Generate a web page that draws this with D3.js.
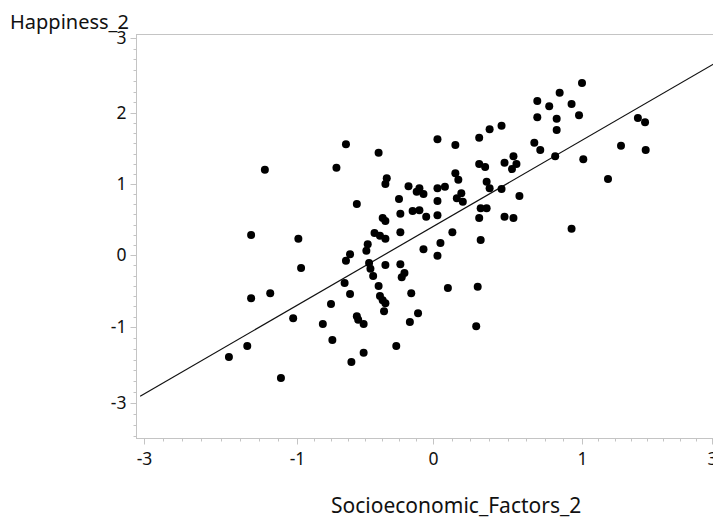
<!DOCTYPE html>
<html>
<head>
<meta charset="utf-8">
<script src="https://cdn.jsdelivr.net/npm/d3@7"></script>
<style>
  html, body { margin: 0; padding: 0; background: #fff; }
  svg { display: block; font-family: "Noto Sans", "Open Sans", sans-serif; }
</style>
</head>
<body>
<svg id="chart" width="713" height="518"></svg>
<script>
// ---- data ----
const xTickLabels = [-3, -1, 0, 1, 3];
const yTickLabels = [-3, -1, 0, 1, 2, 3];

const socioeconomic = [
  -1.89, -1.65, -1.21, -1.60, -1.60, -1.42, -1.35, -0.99, -0.97, -1.05,
  -0.64, -0.71, -0.56, -0.61, -0.64, -0.48, -0.49, -0.47, -0.65, -0.61, -0.75, -0.56, -0.55,
  -0.40, 0.03, 0.15, 0.31, 0.38, 0.46, -0.34, -0.35, -0.18, -0.10, -0.12, -0.07, 0.03, 0.08,
  0.15, 0.17, 0.31, 0.35, 0.36, 0.38, 0.46, 0.19, 0.16, 0.20, 0.03, -0.25, -0.15, -0.10,
  -0.05, -0.24, 0.03, 0.32, 0.36, 0.31, -0.37, -0.35, -0.43, -0.39, -0.35, -0.24, 0.13,
  0.05, -0.07, 0.03, 0.32, -0.46, -0.35, -0.24, -0.44, -0.21, -0.23,
  -0.40, -0.39, -0.37, -0.35, -0.36, -0.16, -0.11, -0.17, -0.81, -0.51, -0.74, -0.60, -0.51, -0.27,
  1.00, 0.85, 0.70, 0.78, 0.93, 0.70, 0.83, 0.98, 0.83, 0.68, 0.72, 0.82, 1.02,
  1.86, 1.97, 1.60, 1.98, 1.40, 0.93, 0.48, 0.54, 0.56, 0.53, 0.58, 0.48, 0.54,
  0.10, 0.30, 0.29
];
const happiness = [
  -1.79, -1.50, -2.34, -0.60, 0.28, 1.20, -0.53, 0.23, -0.18, -0.88,
  1.56, 1.23, 0.72, 0.01, -0.08, 0.15, 0.06, -0.11, -0.39, -0.54, -0.68, -0.85, -0.90,
  1.44, 1.63, 1.55, 1.65, 1.77, 1.82, 1.08, 1.00, 0.97, 0.94, 0.89, 0.86, 0.94, 0.96,
  1.15, 1.06, 1.28, 1.24, 1.03, 0.94, 0.93, 0.87, 0.80, 0.75, 0.76, 0.79, 0.62, 0.63,
  0.54, 0.58, 0.56, 0.66, 0.66, 0.52, 0.52, 0.48, 0.31, 0.27, 0.23, 0.32, 0.32,
  0.17, 0.08, -0.01, 0.21, -0.19, -0.14, -0.13, -0.29, -0.25, -0.31,
  -0.43, -0.57, -0.63, -0.67, -0.78, -0.53, -0.81, -0.93, -0.96, -0.96, -1.34, -1.92, -1.68, -1.50,
  2.40, 2.27, 2.16, 2.09, 2.12, 1.94, 1.92, 1.97, 1.76, 1.58, 1.48, 1.39, 1.35,
  1.93, 1.87, 1.54, 1.48, 1.07, 0.37, 1.30, 1.39, 1.28, 1.21, 0.83, 0.54, 0.52,
  -0.46, -0.44, -0.99
];
const fitX = [-3.05, 3.02];
const fitY = [-2.82, 2.65];

// ---- layout ----
const svg = d3.select("#chart");
const frame = { left: 136, right: 713, top: 34, bottom: 438 };
const axisColor = "#c4c4c4";

const x = d3.scaleLinear().domain(xTickLabels).range([144, 297, 433, 582, 712]);
const y = d3.scaleLinear().domain(yTickLabels).range([403, 327, 255, 184, 113, 38]);

function minorTicks(majors, n, extraBelow) {
  const out = [];
  for (let i = 0; i < majors.length - 1; i++) {
    const a = majors[i], b = majors[i + 1];
    for (let k = 1; k < n; k++) out.push(a + (b - a) * k / n);
  }
  if (extraBelow) {
    const a = majors[0], b = majors[1];
    for (let k = 1; k <= extraBelow; k++) out.push(a - (b - a) * k / n);
  }
  return out;
}

// frame lines
const g = svg.append("g");
g.append("line").attr("x1", frame.left).attr("x2", frame.right)
  .attr("y1", frame.top + 0.5).attr("y2", frame.top + 0.5)
  .attr("stroke", axisColor).attr("stroke-width", 1);
g.append("line").attr("x1", frame.left + 0.5).attr("x2", frame.left + 0.5)
  .attr("y1", frame.top).attr("y2", frame.bottom)
  .attr("stroke", axisColor).attr("stroke-width", 1);
g.append("line").attr("x1", frame.left).attr("x2", frame.right)
  .attr("y1", frame.bottom + 0.5).attr("y2", frame.bottom + 0.5)
  .attr("stroke", axisColor).attr("stroke-width", 1);

// y axis
const yAxis = d3.axisLeft(y).tickValues(yTickLabels).tickSize(6).tickPadding(4)
  .tickFormat(d => String(d));
const yG = svg.append("g").attr("transform", `translate(${frame.left + 0.5},0)`).call(yAxis);
yG.select(".domain").remove();
yG.selectAll(".tick line").attr("stroke", axisColor);
yG.selectAll(".tick text").attr("font-size", 17.5).attr("fill", "#111")
  .attr("font-family", "'Noto Sans', 'Open Sans', sans-serif");
yG.selectAll(".minor").data(minorTicks(yTickLabels, 7, 3)).enter().append("line")
  .attr("x1", -3).attr("x2", 0)
  .attr("y1", d => Math.round(y(d)) + 0.5).attr("y2", d => Math.round(y(d)) + 0.5)
  .attr("stroke", axisColor);

// x axis
const xAxis = d3.axisBottom(x).tickValues(xTickLabels).tickSize(6).tickPadding(8)
  .tickFormat(d => String(d));
const xG = svg.append("g").attr("transform", `translate(0,${frame.bottom + 0.5})`).call(xAxis);
xG.select(".domain").remove();
xG.selectAll(".tick line").attr("stroke", axisColor);
xG.selectAll(".tick text").attr("font-size", 17.5).attr("fill", "#111")
  .attr("font-family", "'Noto Sans', 'Open Sans', sans-serif");
xG.selectAll(".minor").data(minorTicks(xTickLabels, 8, 0)).enter().append("line")
  .attr("y1", 0).attr("y2", 3)
  .attr("x1", d => Math.round(x(d)) + 0.5).attr("x2", d => Math.round(x(d)) + 0.5)
  .attr("stroke", axisColor);

// fit line
svg.append("line")
  .attr("x1", x(fitX[0])).attr("y1", y(fitY[0]))
  .attr("x2", x(fitX[1])).attr("y2", y(fitY[1]))
  .attr("stroke", "#111").attr("stroke-width", 1.2);

// points
svg.append("g").selectAll("circle")
  .data(socioeconomic.map((v, i) => [v, happiness[i]]))
  .enter().append("circle")
  .attr("cx", d => x(d[0])).attr("cy", d => y(d[1]))
  .attr("r", 4).attr("fill", "#000");

// titles
svg.append("text").attr("x", 10).attr("y", 29)
  .attr("font-size", 20).attr("fill", "#111").text("Happiness_2");
svg.append("text").attr("x", 331).attr("y", 513)
  .attr("font-size", 21).attr("fill", "#111").text("Socioeconomic_Factors_2");
</script>
</body>
</html>
